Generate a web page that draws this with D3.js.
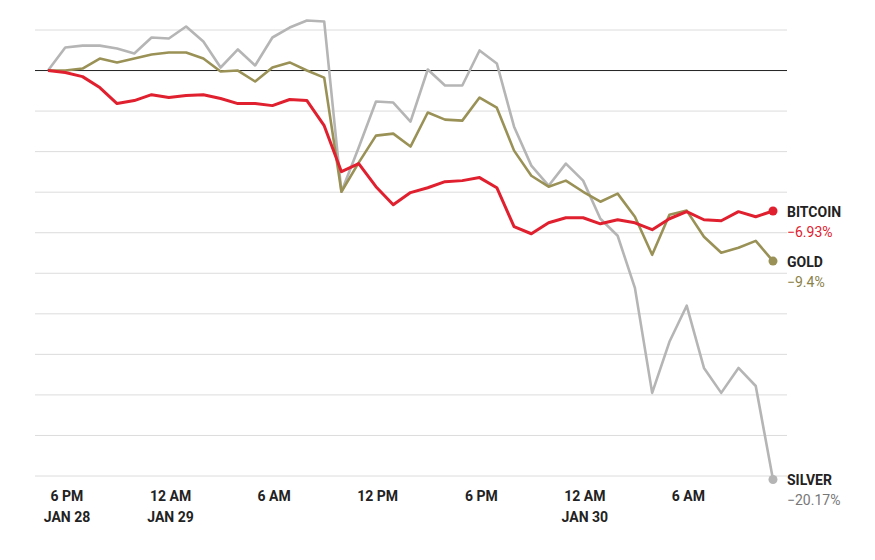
<!DOCTYPE html>
<html>
<head>
<meta charset="utf-8">
<script src="https://cdn.jsdelivr.net/npm/d3@7"></script>
<style>
  body { margin: 0; background: #fff; }
  text { font-family: "Liberation Sans Narrow", Roboto, sans-serif; }
</style>
</head>
<body>
<div id="chart"></div>
<script>
// hours after 6 PM Jan 28, one reading per hour
const startHour = -1.1;
const silver = [0, 1.14, 1.23, 1.23, 1.09, 0.84, 1.63, 1.58, 2.17, 1.43, 0.15, 1.04, 0.25, 1.63, 2.12, 2.47, 2.42,
  -5.98, -3.80, -1.53, -1.58, -2.52, 0.05, -0.74, -0.74, 0.99, 0.35, -2.77, -4.69, -5.68, -4.59, -5.43, -7.31,
  -8.15, -10.72, -15.90, -13.38, -11.60, -14.67, -15.90, -14.67, -15.56, -20.17];
const gold = [0, 0, 0.10, 0.59, 0.40, 0.59, 0.79, 0.89, 0.89, 0.59, -0.05, 0, -0.54, 0.15, 0.40, 0, -0.35,
  -5.98, -4.54, -3.21, -3.11, -3.75, -2.07, -2.42, -2.47, -1.33, -1.83, -3.95, -5.19, -5.73, -5.43, -5.98, -6.47,
  -6.07, -7.21, -9.09, -7.11, -6.91, -8.20, -8.99, -8.74, -8.40, -9.4];
const bitcoin = [0, -0.10, -0.30, -0.84, -1.63, -1.48, -1.19, -1.33, -1.23, -1.19, -1.38, -1.63, -1.63, -1.73, -1.43, -1.48, -2.72,
  -4.99, -4.59, -5.73, -6.62, -6.02, -5.78, -5.48, -5.43, -5.28, -5.78, -7.70, -8.05, -7.51, -7.26, -7.26, -7.56,
  -7.36, -7.51, -7.85, -7.31, -6.96, -7.36, -7.41, -6.96, -7.21, -6.93];
const tickHours = [0, 6, 12, 18, 24, 30, 36];
const tickLabels = [["6 PM", "JAN 28"], ["12 AM", "JAN 29"], ["6 AM"], ["12 PM"], ["6 PM"], ["12 AM", "JAN 30"], ["6 AM"]];
const yTicks = [2, 0, -2, -4, -6, -8, -10, -12, -14, -16, -18, -20];

const series = [
  { name: "SILVER", values: silver, color: "#b5b5b5", label: "−20.17%", textColor: "#777" },
  { name: "GOLD", values: gold, color: "#9a9156", label: "−9.4%", textColor: "#8a8147" },
  { name: "BITCOIN", values: bitcoin, color: "#e0202e", label: "−6.93%", textColor: "#e0202e" }
];

const width = 875, height = 560;
const svg = d3.select("#chart").append("svg").attr("width", width).attr("height", height);

const xScale = d3.scaleLinear().domain([startHour, startHour + 42]).range([48, 773]);
const yScale = d3.scaleLinear().domain([2, -20]).range([30, 476]);

// grid
svg.append("g").selectAll("line").data(yTicks).join("line")
  .attr("x1", 35).attr("x2", 787)
  .attr("y1", d => yScale(d)).attr("y2", d => yScale(d))
  .attr("stroke", d => d === 0 ? "#222" : "#dcdcdc")
  .attr("stroke-width", 1);

// x tick labels
const ticks = svg.append("g").selectAll("text").data(tickHours).join("text")
  .attr("x", d => xScale(d))
  .attr("y", 501)
  .attr("text-anchor", "middle")
  .attr("font-size", 14).attr("font-weight", "bold").attr("fill", "#222");
ticks.each(function (d, i) {
  tickLabels[i].forEach((t, j) => {
    d3.select(this).append("tspan").attr("x", xScale(d)).attr("dy", j ? 21 : 0).text(t);
  });
});

const line = d3.line()
  .x((d, i) => xScale(startHour + i))
  .y(d => yScale(d));

series.forEach(s => {
  svg.append("path").datum(s.values)
    .attr("d", line)
    .attr("fill", "none")
    .attr("stroke", s.color)
    .attr("stroke-width", s.name === "BITCOIN" ? 3 : 2.6)
    .attr("stroke-linejoin", "round");
  const last = s.values[s.values.length - 1];
  const lx = xScale(startHour + s.values.length - 1), ly = yScale(last);
  svg.append("circle").attr("cx", lx).attr("cy", ly).attr("r", 4.5).attr("fill", s.color);
  svg.append("text").attr("x", 787).attr("y", ly + 6)
    .attr("font-size", 14).attr("font-weight", "bold").attr("fill", "#222").text(s.name);
  svg.append("text").attr("x", 787).attr("y", ly + 26)
    .attr("font-size", 14).attr("fill", s.textColor).text(s.label);
});
</script>
</body>
</html>
